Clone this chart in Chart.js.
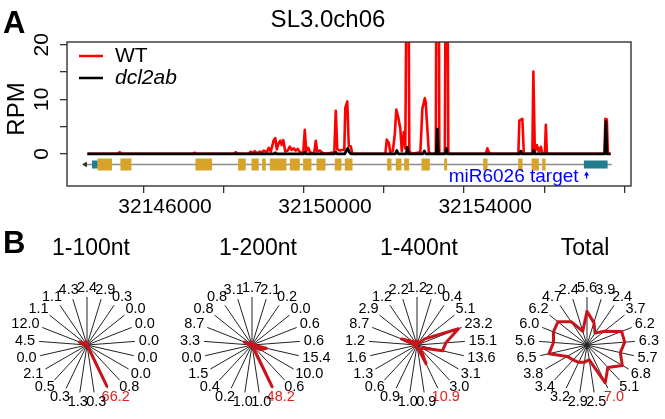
<!DOCTYPE html>
<html>
<head>
<meta charset="utf-8">
<script src="https://cdn.jsdelivr.net/npm/chart.js@4.4.1/dist/chart.umd.min.js"></script>
<style>
  html, body { margin: 0; padding: 0; background: #fff; overflow: hidden; }
  body { width: 665px; height: 419px; position: relative; }
  canvas { position: absolute; }
</style>
</head>
<body>
<canvas id="track" width="665" height="226" style="left:0;top:0"></canvas>
<script>
var FONT = '"Liberation Sans", Arial, Helvetica, sans-serif';

// ---- panel A: coverage track ----
var trackTitle = 'SL3.0ch06';
var yTitle = 'RPM';
var seriesNames = ['WT', 'dcl2ab'];
var yTicks = [0, 5, 10, 15, 20];
var yLabels = ['0', '', '10', '', '20'];
var xTicks = [32146000, 32148000, 32150000, 32152000, 32154000, 32156000, 32158000];
var xLabels = ['32146000', '', '32150000', '', '32154000', '', ''];

var wtPos = [
  32144585,
  32145342, 32145392, 32145442,
  32147217, 32147267, 32147317,
  32148242, 32148292, 32148342,
  32148617, 32148667, 32148717, 32148767, 32148817, 32148892, 32148942, 32148992,
  32149067, 32149117, 32149167, 32149242, 32149280, 32149317, 32149367, 32149405,
  32149442, 32149480, 32149530, 32149592, 32149642, 32149692, 32149742, 32149792,
  32149842, 32149905, 32149980, 32150017, 32150055, 32150105, 32150142, 32150192,
  32150255, 32150292, 32150330, 32150392, 32150455, 32150542,
  32150755, 32150792, 32150830, 32150892, 32151005, 32151030, 32151080, 32151117, 32151167, 32151205,
  32152030, 32152067, 32152117, 32152155, 32152217, 32152267, 32152305, 32152355,
  32152405, 32152442, 32152492, 32152530, 32152567, 32152605, 32152630, 32152692,
  32152905, 32152930, 32152955, 32153017, 32153042, 32153060, 32153117, 32153155,
  32153292, 32153317, 32153355, 32153380,
  32153517, 32153542, 32153580, 32153605,
  32154542, 32154580, 32154617, 32154655,
  32155355, 32155380, 32155455, 32155492,
  32155705, 32155730, 32155767, 32155817, 32155867, 32155917, 32155955,
  32156017, 32156042, 32156067,
  32157505, 32157530, 32157567, 32157592, 32157660
];
var wtRpm = [
  0,
  0, 0.3, 0,
  0, 0.2, 0,
  0, 0.3, 0,
  0, 0.4, 0.1, 0.5, 0.1, 0.4, 0.2, 0.6,
  0.3, 1.1, 0.4, 2.5, 2.9, 0.8, 2.0, 2.4,
  1.6, 2.5, 0.4, 0.6, 1.3, 0.7, 1.0, 0.6,
  0.9, 0.2, 0.3, 4.4, 0.5, 1.1, 0.4, 0.1,
  0.2, 2.4, 0.4, 0.6, 0.2, 0,
  0.3, 7.9, 0.8, 0.6, 0.8, 8.4, 9.6, 1.4, 1.4, 0,
  0, 2.6, 2.0, 0.3, 0.5, 3.5, 8.1, 6.6,
  4.6, 0.5, 4.0, 1.0, 40, 40, 0.5, 0,
  0.3, 4.0, 8.2, 10.2, 9.4, 6.9, 0.4, 0,
  0, 60, 60, 0,
  0, 40, 40, 0,
  0, 1.0, 0.3, 0,
  0, 6.1, 6.4, 0,
  0, 15.1, 0.3, 1.6, 0.4, 1.3, 0,
  0, 5.3, 0,
  0, 6.4, 6.3, 0, 0
];

var dclPos = [
  32144585,
  32149255, 32149280, 32149305,
  32149992, 32150017, 32150042,
  32150767, 32150792, 32150817,
  32151017, 32151055, 32151092, 32151130, 32151167,
  32152280, 32152317, 32152355,
  32152555, 32152580, 32152605,
  32152967, 32153005, 32153042,
  32153305, 32153330, 32153355,
  32153530, 32153555, 32153580,
  32155392, 32155417, 32155442,
  32155717, 32155742, 32155767,
  32157517, 32157542, 32157567,
  32157660
];
var dclRpm = [
  0,
  0, 0.2, 0,
  0, 0.3, 0,
  0, 0.3, 0,
  0, 0.6, 1.0, 0.3, 0,
  0, 0.6, 0,
  0, 1.2, 0,
  0, 0.5, 0,
  0, 4.5, 0,
  0, 1.0, 0,
  0, 0.5, 0,
  0, 0.6, 0,
  0, 5.9, 0,
  0
];

var exonStart = [32144835, 32145410, 32147285, 32148350, 32148685, 32148950, 32149143, 32149643,
  32149975, 32150310, 32150768, 32151018, 32152075, 32152293, 32152500, 32152935, 32153500,
  32154475, 32155350, 32155685, 32155950];
var exonEnd = [32145200, 32145685, 32147700, 32148543, 32148868, 32149043, 32149560, 32149893,
  32150185, 32150535, 32150935, 32151210, 32152185, 32152435, 32152625, 32153143, 32153575,
  32154585, 32155460, 32155868, 32156035];
var utrStart = [32144700, 32156993];
var utrEnd = [32144835, 32157585];
var geneSpan = [32144560, 32157690];
var strandArrow = 32144530;
var targetPos = 32157060;
var targetText = 'miR6026 target';
var GENE_Y = -1.95;

// ---- panel B: phasing registers (21 positions, clockwise from top) ----
var reg100 = [2.4, 2.9, 0.3, 0.0, 0.0, 0.0, 0.0, 0.0, 0.8, 66.2, 0.3, 1.3, 0.3, 0.5, 2.1, 0.0, 4.5, 12.0, 1.1, 1.1, 4.3];
var reg200 = [1.7, 2.1, 0.2, 0.0, 0.6, 0.6, 15.4, 10.0, 0.6, 48.2, 1.0, 1.0, 0.2, 0.4, 1.5, 0.0, 3.3, 8.7, 0.8, 0.8, 3.1];
var reg400 = [1.2, 2.0, 0.4, 5.1, 23.2, 15.1, 13.6, 3.1, 3.0, 10.9, 0.9, 1.0, 0.9, 0.6, 1.3, 1.6, 1.2, 8.7, 2.9, 1.2, 2.2];
var regTotal = [5.6, 3.9, 2.4, 3.7, 6.2, 6.3, 5.7, 6.8, 5.1, 7.0, 2.5, 2.9, 3.2, 3.4, 3.8, 6.5, 5.6, 6.0, 6.2, 4.7, 2.4];
var radarTitles = ['1-100nt', '1-200nt', '1-400nt', 'Total'];
var radarMax = [70, 50, 25, 8];
var markedRegister = 9;

Chart.defaults.font.family = FONT;
Chart.defaults.color = '#000';

function pts(xs, ys) {
  return xs.map(function (x, i) { return { x: x, y: ys[i] }; });
}
function bars(starts, ends, y) {
  var out = [];
  starts.forEach(function (s, i) {
    out.push({ x: s, y: y }, { x: ends[i], y: y }, { x: ends[i], y: null });
  });
  return out;
}

var trackDecor = {
  id: 'trackDecor',
  afterDraw: function (chart) {
    var ctx = chart.ctx, a = chart.chartArea, xs = chart.scales.x, ys = chart.scales.y;
    ctx.save();
    ctx.strokeStyle = '#333';
    ctx.lineWidth = 1.4;
    ctx.strokeRect(a.left, a.top, a.right - a.left, a.bottom - a.top);

    ctx.fillStyle = '#000';
    ctx.textBaseline = 'alphabetic';
    ctx.textAlign = 'left';
    ctx.font = 'bold 31px ' + FONT;
    ctx.fillText('A', 3, 33);
    ctx.textAlign = 'center';
    ctx.font = '24px ' + FONT;
    ctx.fillText(trackTitle, 328, 27);

    ctx.font = '21px ' + FONT;
    yTicks.forEach(function (v, i) {
      if (!yLabels[i]) return;
      ctx.save();
      ctx.translate(a.left - 19, ys.getPixelForValue(v));
      ctx.rotate(-Math.PI / 2);
      ctx.fillText(yLabels[i], 0, 0);
      ctx.restore();
    });
    ctx.save();
    ctx.translate(24, 109);
    ctx.rotate(-Math.PI / 2);
    ctx.font = '24px ' + FONT;
    ctx.fillText(yTitle, 0, 0);
    ctx.restore();

    // legend
    var colors = ['#ff0000', '#000000'];
    ctx.textAlign = 'left';
    seriesNames.forEach(function (name, i) {
      var ly = 56 + i * 22;
      ctx.strokeStyle = colors[i];
      ctx.lineWidth = 2.5;
      ctx.beginPath();
      ctx.moveTo(a.left + 12, ly);
      ctx.lineTo(a.left + 36, ly);
      ctx.stroke();
      ctx.font = (i === 1 ? 'italic ' : '') + '21px ' + FONT;
      ctx.fillText(name, a.left + 48, ly + 6);
    });

    // target marker
    var tx = xs.getPixelForValue(targetPos);
    var ty = ys.getPixelForValue(-3.25);
    ctx.fillStyle = '#0000ff';
    ctx.strokeStyle = '#0000ff';
    ctx.beginPath();
    ctx.moveTo(tx, ty);
    ctx.lineTo(tx - 2.5, ty + 4);
    ctx.lineTo(tx + 2.5, ty + 4);
    ctx.closePath();
    ctx.fill();
    ctx.lineWidth = 1.3;
    ctx.beginPath();
    ctx.moveTo(tx, ty + 3);
    ctx.lineTo(tx, ty + 7);
    ctx.stroke();
    ctx.font = '19px ' + FONT;
    ctx.textAlign = 'right';
    ctx.fillText(targetText, tx - 8, ys.getPixelForValue(-5.2));
    ctx.restore();
  }
};

new Chart(document.getElementById('track'), {
  type: 'scatter',
  data: {
    datasets: [
      { data: pts(geneSpan, [GENE_Y, GENE_Y]), showLine: true, borderColor: '#8c8c8c', borderWidth: 1.5, pointRadius: 0, order: 6 },
      { data: bars(exonStart, exonEnd, GENE_Y), showLine: true, borderColor: '#d6a42b', borderWidth: 12, pointRadius: 0, spanGaps: false, order: 5 },
      { data: bars(utrStart, utrEnd, GENE_Y), showLine: true, borderColor: '#1f7d8e', borderWidth: 8, pointRadius: 0, spanGaps: false, order: 4 },
      { data: [{ x: strandArrow, y: GENE_Y }], pointStyle: 'triangle', rotation: -90, pointRadius: 2.5, backgroundColor: '#333', borderColor: '#333', borderWidth: 1, order: 3 },
      { label: seriesNames[0], data: pts(wtPos, wtRpm), showLine: true, borderColor: '#ff0000', borderWidth: 2.6, pointRadius: 0, borderJoinStyle: 'round', order: 2 },
      { label: seriesNames[1], data: pts(dclPos, dclRpm), showLine: true, borderColor: '#000000', borderWidth: 2.8, pointRadius: 0, borderJoinStyle: 'round', order: 1 }
    ]
  },
  options: {
    responsive: false,
    animation: false,
    events: [],
    layout: { padding: { left: 0, right: 34, top: 42, bottom: 0 } },
    plugins: { legend: { display: false }, tooltip: { enabled: false } },
    scales: {
      x: {
        type: 'linear', min: 32144075, max: 32158170,
        afterBuildTicks: function (s) { s.ticks = xTicks.map(function (v) { return { value: v }; }); },
        afterFit: function (s) { s.height = 40; },
        border: { display: false },
        grid: { drawOnChartArea: false, drawTicks: true, tickLength: 7, color: '#333', lineWidth: 1.3 },
        ticks: {
          autoSkip: false, maxRotation: 0, minRotation: 0, padding: 2, labelOffset: 21,
          font: { size: 21 }, color: '#000',
          callback: function (v, i) { return xLabels[i]; }
        }
      },
      y: {
        type: 'linear', min: -5.9, max: 20.5,
        afterBuildTicks: function (s) { s.ticks = yTicks.map(function (v) { return { value: v }; }); },
        afterFit: function (s) { s.width = 67; },
        border: { display: false },
        grid: { drawOnChartArea: false, drawTicks: true, tickLength: 7, color: '#333', lineWidth: 1.3 },
        ticks: { display: false }
      }
    }
  },
  plugins: [trackDecor]
});

// ---- radar charts ----
var radarText = {
  id: 'radarText',
  afterDraw: function (chart, args, o) {
    var ctx = chart.ctx, s = chart.scales.r;
    ctx.save();
    ctx.textAlign = 'center';
    ctx.textBaseline = 'middle';
    ctx.font = '14.5px ' + FONT;
    chart.data.labels.forEach(function (lab, i) {
      var ang = s.getIndexAngle(i);
      var p = s.getPointPosition(i, s.drawingArea + o.pad);
      var w = ctx.measureText(lab).width, h = 11;
      ctx.fillStyle = i === o.mark ? '#e0201f' : '#000';
      ctx.fillText(lab, p.x + Math.sin(ang) * w / 2, p.y - Math.cos(ang) * h / 2);
    });
    ctx.fillStyle = '#000';
    ctx.textBaseline = 'alphabetic';
    ctx.font = '23px ' + FONT;
    ctx.fillText(o.title, s.xCenter + o.titleDx, 27);
    if (o.letter) {
      ctx.textAlign = 'left';
      ctx.font = 'bold 31px ' + FONT;
      ctx.fillText(o.letter, 3, 25);
    }
    ctx.restore();
  }
};

function radar(values, idx, cx, titleDx) {
  var c = document.createElement('canvas');
  c.width = 174;
  c.height = 191;
  c.style.left = (cx - 87) + 'px';
  c.style.top = '228px';
  document.body.appendChild(c);
  new Chart(c, {
    type: 'radar',
    data: {
      labels: values.map(function (v) { return v.toFixed(1); }),
      datasets: [{ data: values, borderColor: '#c8141c', borderWidth: 3, fill: false, pointRadius: 0, borderJoinStyle: 'round' }]
    },
    options: {
      responsive: false,
      animation: false,
      events: [],
      layout: { padding: { left: 39, right: 39, top: 69, bottom: 26 } },
      plugins: {
        legend: { display: false }, tooltip: { enabled: false },
        radarText: { pad: 4, mark: markedRegister, title: radarTitles[idx], titleDx: titleDx, letter: idx === 0 ? 'B' : '' }
      },
      scales: {
        r: {
          min: 0, max: radarMax[idx],
          ticks: { display: false },
          grid: { display: false },
          angleLines: { display: true, color: '#222', lineWidth: 1 },
          pointLabels: { display: false }
        }
      }
    },
    plugins: [radarText]
  });
}

radar(reg100, 0, 87, 4);
radar(reg200, 1, 252, 6);
radar(reg400, 2, 417, 2);
radar(regTotal, 3, 587, -2);
</script>
</body>
</html>
